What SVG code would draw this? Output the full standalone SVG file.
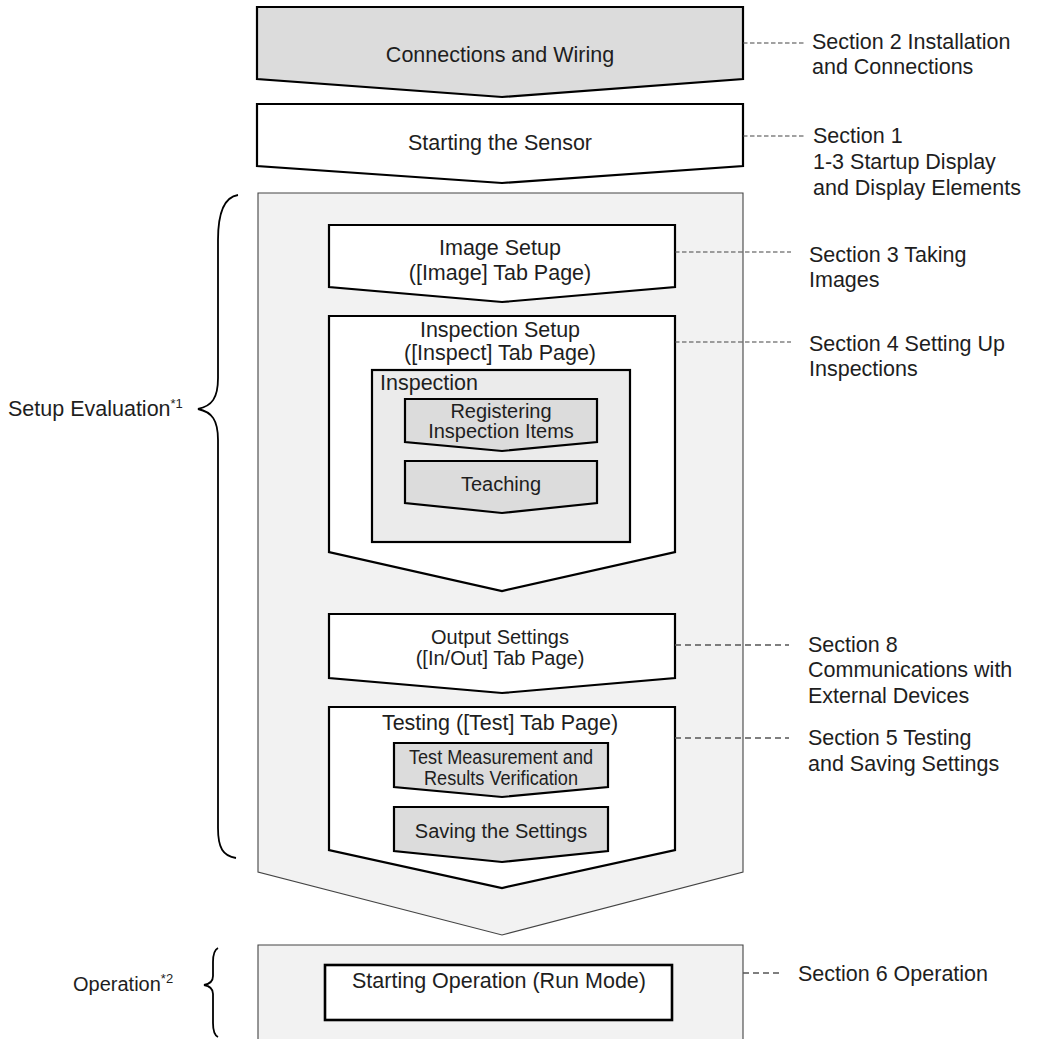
<svg xmlns="http://www.w3.org/2000/svg" width="1040" height="1039" viewBox="0 0 1040 1039">
<style>
text{font-family:"Liberation Sans",Arial,Helvetica,sans-serif;fill:#1e1e1e}
.t{font-size:21.5px}
.s{font-size:20px}
.c{text-anchor:middle}
.grey{fill:#dcdcdc;stroke:#000;stroke-width:2.2;stroke-linejoin:miter}
.white{fill:#fff;stroke:#000;stroke-width:2.2;stroke-linejoin:miter}
.cont{fill:#f2f2f2;stroke:#444;stroke-width:1.1}
.insp{fill:#ebebeb;stroke:#000;stroke-width:2.2}
.d1{fill:none;stroke:#444;stroke-width:1.2;stroke-dasharray:4.5 2.5}
.d2{fill:none;stroke:#555;stroke-width:1.3;stroke-dasharray:6 4}
.brace{fill:none;stroke:#000;stroke-width:1.8}
.sup{font-size:13px}
</style>
<rect width="1040" height="1039" fill="#fff"/>

<g id="setup-evaluation-container">
<path class="cont" d="M258,193 H743 V872 L502,935 L258,872 Z"/>
</g>
<g id="operation-container">
<path class="cont" d="M258,1042 V945 H743 V1042"/>
</g>

<g id="connections-wiring">
<path class="grey" d="M257,7 H743 V79 L502,97 L257,79 Z"/>
<text class="t c" x="500" y="62">Connections and Wiring</text>
</g>
<g id="starting-sensor">
<path class="white" d="M257,104 H743 V166 L502,183 L257,166 Z"/>
<text class="t c" x="500" y="150">Starting the Sensor</text>
</g>

<g id="image-setup">
<path class="white" d="M329,225 H675 V287 L502,302 L329,287 Z"/>
<text class="t c" x="500" y="255">Image Setup</text>
<text class="t c" x="500" y="280">([Image] Tab Page)</text>
</g>

<g id="inspection-setup">
<path class="white" d="M329,316 H675 V552 L502,591 L329,552 Z"/>
<text class="t c" x="500" y="337">Inspection Setup</text>
<text class="t c" x="500" y="360">([Inspect] Tab Page)</text>
</g>
<g id="inspection">
<rect class="insp" x="372" y="370" width="258" height="172"/>
<text class="t" x="380" y="390">Inspection</text>
</g>
<g id="registering">
<path class="grey" d="M405,399 H597 V442 L502,451 L405,442 Z"/>
<text class="s c" x="501" y="418">Registering</text>
<text class="s c" x="501" y="438">Inspection Items</text>
</g>
<g id="teaching">
<path class="grey" d="M405,461 H597 V503 L502,513 L405,503 Z"/>
<text class="s c" x="501" y="491">Teaching</text>
</g>

<g id="output-settings">
<path class="white" d="M329,614 H675 V678 L502,693 L329,678 Z"/>
<text class="s c" x="500" y="644">Output Settings</text>
<text class="s c" x="500" y="665">([In/Out] Tab Page)</text>
</g>

<g id="testing">
<path class="white" d="M329,707 H675 V850 L502,888 L329,850 Z"/>
<text class="t c" x="500" y="730">Testing ([Test] Tab Page)</text>
</g>
<g id="test-measurement">
<path class="grey" d="M394,743 H608 V787 L502,797 L394,787 Z"/>
<text class="s c" x="501" y="764" textLength="184" lengthAdjust="spacingAndGlyphs">Test Measurement and</text>
<text class="s c" x="501" y="785" textLength="154" lengthAdjust="spacingAndGlyphs">Results Verification</text>
</g>
<g id="saving-settings">
<path class="grey" d="M394,807 H608 V851 L502,862 L394,851 Z"/>
<text class="s c" x="501" y="838">Saving the Settings</text>
</g>

<g id="starting-operation">
<rect x="325" y="965" width="347" height="55" fill="#fff" stroke="#000" stroke-width="2.6"/>
<text class="t c" x="499" y="988">Starting Operation (Run Mode)</text>
</g>

<g id="connectors">
<path class="d1" d="M743,43 H804"/>
<path class="d1" d="M743,136 H804"/>
<path class="d1" d="M675,252 H791"/>
<path class="d1" d="M675,342 H791"/>
<path class="d2" d="M675,645 H789"/>
<path class="d2" d="M675,738 H789"/>
<path class="d2" d="M743,973 H779"/>
<path class="brace" d="M238,195 C225,197 218,212 218,240 V378 C218,398 212,406 198,409 C212,412 218,420 218,440 V828 C218,848 223,856 236,858"/>
<path class="brace" d="M218,948 C214,950 213,956 213,962 V976 C213,981 210,984 204,985 C210,986 213,989 213,994 V1023 C213,1030 214,1035 218,1037"/>
</g>

<g id="labels-right">
<text class="t" x="812" y="49">Section 2 Installation</text>
<text class="t" x="812" y="74">and Connections</text>
<text class="t" x="813" y="143">Section 1</text>
<text class="t" x="813" y="169">1-3 Startup Display</text>
<text class="t" x="813" y="195">and Display Elements</text>
<text class="t" x="809" y="262">Section 3 Taking</text>
<text class="t" x="809" y="287">Images</text>
<text class="t" x="809" y="351">Section 4 Setting Up</text>
<text class="t" x="809" y="376">Inspections</text>
<text class="t" x="808" y="652">Section 8</text>
<text class="t" x="808" y="677">Communications with</text>
<text class="t" x="808" y="703">External Devices</text>
<text class="t" x="808" y="745">Section 5 Testing</text>
<text class="t" x="808" y="771">and Saving Settings</text>
<text class="t" x="798" y="981">Section 6 Operation</text>
</g>

<g id="labels-left">
<text class="t" x="8" y="416">Setup Evaluation<tspan class="sup" dy="-8">*1</tspan></text>
<text x="73" y="991" style="font-size:20px">Operation<tspan class="sup" dy="-8">*2</tspan></text>
</g>
</svg>
